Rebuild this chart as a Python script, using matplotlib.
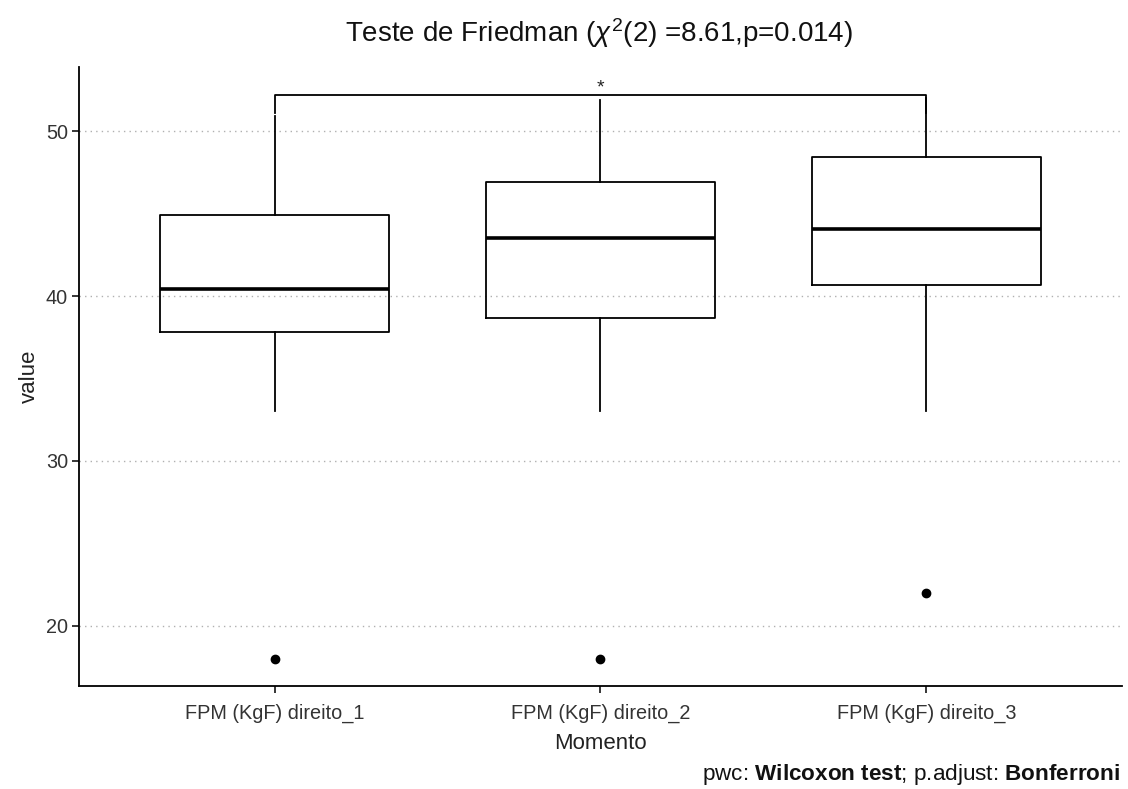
#!/usr/bin/env python3
"""
Boxplot of FPM (KgF) direito by momento, Friedman test layout
"""

import matplotlib
matplotlib.use('Agg')
import matplotlib.pyplot as plt

plt.rcParams['font.family'] = ['Liberation Sans', 'DejaVu Sans']
plt.rcParams['mathtext.fontset'] = 'custom'
plt.rcParams['mathtext.rm'] = 'Liberation Sans'
plt.rcParams['mathtext.it'] = 'Liberation Sans:italic'
plt.rcParams['mathtext.bf'] = 'Liberation Sans:bold'

# data
categories = ['FPM (KgF) direito_1', 'FPM (KgF) direito_2', 'FPM (KgF) direito_3']
q1 = [37.8, 38.7, 40.7]
medians = [40.45, 43.55, 44.05]
q3 = [44.95, 46.95, 48.45]
whisker_low = [33.0, 33.0, 33.0]
whisker_high = [50.9, 51.9, 52.0]
outliers = [[18.0], [18.0], [22.0]]

bracket_y = 52.2
bracket_label = '*'

stats = []
for i, name in enumerate(categories):
    stats.append({
        'label': name,
        'q1': q1[i], 'med': medians[i], 'q3': q3[i],
        'whislo': whisker_low[i], 'whishi': whisker_high[i],
        'fliers': outliers[i],
    })

fig = plt.figure(figsize=(11.28, 7.89), dpi=100)
ax = fig.add_axes([0.070, 0.1306, 0.9247, 0.7845])

positions = [1, 2, 3]
ax.bxp(stats, positions=positions, widths=0.7, showcaps=False,
       boxprops=dict(color='black', linewidth=1.3),
       whiskerprops=dict(color='black', linewidth=1.3),
       medianprops=dict(color='black', linewidth=2.6),
       flierprops=dict(marker='o', markerfacecolor='black', markeredgecolor='black',
                       markersize=6))

# significance bracket
ax.plot([1, 1, 3, 3], [bracket_y - 1.1, bracket_y, bracket_y, bracket_y - 1.1],
        color='black', linewidth=1.3)
ax.text(2, bracket_y - 0.1, bracket_label, ha='center', va='bottom', fontsize=14,
        color='#222222')

ax.set_xlim(0.4, 3.6)
ax.set_ylim(16.35, 53.9)
ax.set_yticks([20, 30, 40, 50])
ax.set_xticks(positions)
ax.set_xticklabels(categories)
ax.yaxis.grid(True, linestyle=(0, (1, 3)), color='#b0b0b0', linewidth=1.0)
ax.set_axisbelow(True)

for side in ['top', 'right']:
    ax.spines[side].set_visible(False)
for side in ['left', 'bottom']:
    ax.spines[side].set_linewidth(1.3)
ax.tick_params(axis='both', labelsize=14.3, color='black', width=1.1, length=5,
               labelcolor='#333333')
ax.tick_params(axis='x', pad=8)
ax.tick_params(axis='y', pad=3)

ax.set_xlabel('Momento', fontsize=16, labelpad=7, color='#222222')
ax.set_ylabel('value', fontsize=16, labelpad=4, color='#222222')

fig.text(0.531, 0.958, r'Teste de Friedman ($\chi^2$(2) =8.61,p=0.014)',
         ha='center', va='center', fontsize=20, color='#111111')

fig.text(0.993, 0.018, r'pwc: $\mathbf{Wilcoxon\ test}$; p.adjust: $\mathbf{Bonferroni}$',
         ha='right', va='center', fontsize=16.2, color='#111111')

fig.savefig('out.png', dpi=100)
